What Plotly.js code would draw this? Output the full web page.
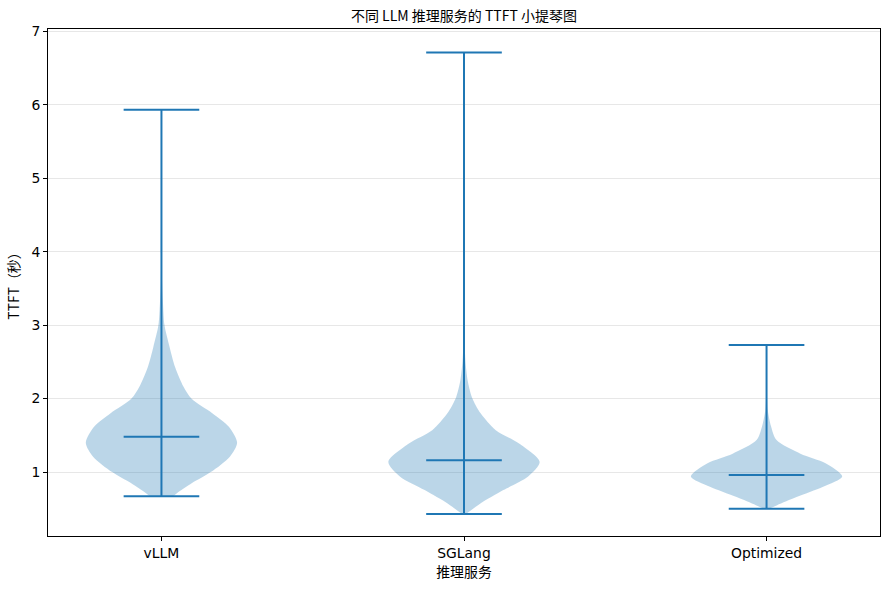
<!DOCTYPE html>
<html>
<head>
<meta charset="utf-8">
<script src="https://cdn.plot.ly/plotly-3.0.1.min.js"></script>
<style>
  body { margin: 0; background: #fff; }
  #chart { width: 889px; height: 590px; }
</style>
</head>
<body>
<div id="chart"></div>
<script>
// services on the x axis (positions 1, 2, 3)
const services = ["vLLM", "SGLang", "Optimized"];

// summary lines (seconds)
const minVals = [0.67, 0.43, 0.50];
const medianVals = [1.48, 1.16, 0.96];
const maxVals = [5.93, 6.71, 2.73];

// violin outlines: TTFT level and half-width (in category units)
const vllmY = [0.67, 0.71, 0.85, 1.00, 1.21, 1.40, 1.62, 1.80, 2.00, 2.16, 2.43, 2.70, 3.00, 3.30, 3.60, 5.93];
const vllmW = [0.038, 0.050, 0.101, 0.163, 0.226, 0.250, 0.222, 0.168, 0.099, 0.073, 0.045, 0.027, 0.010, 0.005, 0.002, 0.0];

const sglangY = [0.43, 0.45, 0.57, 0.755, 0.94, 1.14, 1.39, 1.57, 1.80, 2.02, 2.25, 2.50, 2.80, 6.71];
const sglangW = [0.006, 0.013, 0.053, 0.130, 0.212, 0.250, 0.182, 0.105, 0.055, 0.026, 0.012, 0.005, 0.002, 0.0];

const optY = [0.50, 0.55, 0.66, 0.80, 0.94, 1.12, 1.25, 1.435, 1.62, 1.84, 2.10, 2.73];
const optW = [0.008, 0.035, 0.099, 0.187, 0.250, 0.195, 0.112, 0.033, 0.015, 0.004, 0.001, 0.0];

const shapesY = [vllmY, sglangY, optY];
const shapesW = [vllmW, sglangW, optW];

const blue = "#1f77b4";
const capHalf = 0.125;

let traces = [];

// filled violin bodies
for (let i = 0; i < services.length; i++) {
  let pos = i + 1;
  let ys = shapesY[i], ws = shapesW[i];
  let xs = [], yy = [];
  for (let k = 0; k < ys.length; k++) { xs.push(pos + ws[k]); yy.push(ys[k]); }
  for (let k = ys.length - 1; k >= 0; k--) { xs.push(pos - ws[k]); yy.push(ys[k]); }
  traces.push({
    x: xs, y: yy, type: "scatter", mode: "lines", fill: "toself",
    fillcolor: "rgba(31,119,180,0.3)", line: {width: 0, shape: "spline", smoothing: 0.8},
    hoverinfo: "skip", showlegend: false
  });
}

// vertical bars, min/max caps and medians
let lx = [], ly = [];
for (let i = 0; i < services.length; i++) {
  let pos = i + 1;
  lx.push(pos, pos, null); ly.push(minVals[i], maxVals[i], null);
  [minVals[i], maxVals[i], medianVals[i]].forEach(v => {
    lx.push(pos - capHalf, pos + capHalf, null); ly.push(v, v, null);
  });
}
traces.push({
  x: lx, y: ly, type: "scatter", mode: "lines",
  line: {color: blue, width: 2}, hoverinfo: "skip", showlegend: false
});

const tickFont = {family: "DejaVu Sans", size: 13.9, color: "#000"};
const cjk = "'Noto Sans CJK SC', 'DejaVu Sans'";

const layout = {
  width: 889, height: 590,
  margin: {l: 48, r: 9, t: 29, b: 54},
  paper_bgcolor: "#fff", plot_bgcolor: "#fff",
  showlegend: false,
  title: {
    text: "不同 LLM 推理服务的 TTFT 小提琴图",
    font: {family: cjk, size: 14, color: "#000"},
    x: 0.5, xref: "paper", y: 1 - 16 / 590, yref: "container", yanchor: "middle"
  },
  xaxis: {
    range: [0.625, 3.375],
    tickvals: [1, 2, 3], ticktext: services,
    ticks: "outside", ticklen: 4, tickcolor: "#000",
    showline: true, linecolor: "#000", linewidth: 1, mirror: true,
    showgrid: false, zeroline: false,
    tickfont: tickFont,
    title: {text: "推理服务", font: {family: cjk, size: 13.9, color: "#000"}, standoff: 6}
  },
  yaxis: {
    range: [0.13, 7.03],
    tickvals: [1, 2, 3, 4, 5, 6, 7],
    ticks: "outside", ticklen: 4, tickcolor: "#000",
    showline: true, linecolor: "#000", linewidth: 1, mirror: true,
    showgrid: true, gridcolor: "rgba(176,176,176,0.3)", gridwidth: 1,
    zeroline: false,
    tickfont: tickFont,
    title: {text: "TTFT（秒）", font: {family: cjk, size: 13.9, color: "#000"}, standoff: 8}
  }
};

Plotly.newPlot("chart", traces, layout, {displayModeBar: false, staticPlot: true});
</script>
</body>
</html>
